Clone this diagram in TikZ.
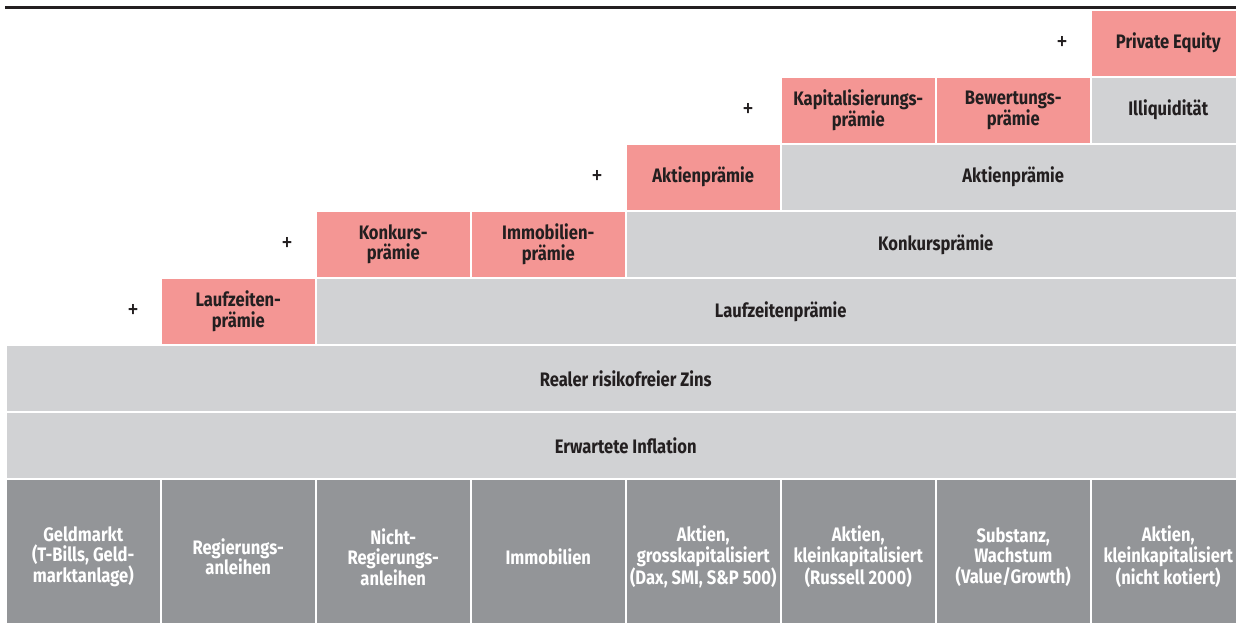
\documentclass[tikz,border=0pt]{standalone}
\usepackage{fontspec}
\setmainfont{Fira Sans}[FakeStretch=0.85]
\usepackage{tikz}
\usetikzlibrary{positioning}
\definecolor{premPink}{HTML}{F49694}
\definecolor{premGrey}{HTML}{D1D2D4}
\definecolor{assetGrey}{HTML}{939598}
\definecolor{inkDark}{HTML}{231F20}

\begin{document}
\begin{tikzpicture}[x=1pt, y=-1pt, font=\bfseries\fontsize{19.5}{20.5}\selectfont,
  cell/.style={draw=white, line width=1.5pt, minimum height=67pt, inner sep=0pt,
               anchor=north west, align=center, text=inkDark},
  prem/.style={cell, fill=premPink, minimum width=155pt},
  base/.style={cell, fill=premGrey},
  asset/.style={cell, fill=assetGrey, text=white, minimum width=155pt, minimum height=156pt},
  plus/.style={font=\mdseries\fontsize{27}{28}\selectfont, text=inkDark},
]
  \useasboundingbox (0,0) rectangle (1236,622);
  \clip (0,0) rectangle (1236,622);
  % premium steps
  \node[prem] (pe) at (1090,9) {Private Equity};
  \node[prem] (kap) at (780,76) {Kapitalisierungs-\\prämie};
  \node[prem] (bew) at (935,76) {Bewertungs-\\prämie};
  \node[base, minimum width=155pt] (illiq) at (1090,76) {Illiquidität};
  \node[prem] (akt) at (625,143) {Aktienprämie};
  \node[base, minimum width=465pt] (aktb) at (780,143) {Aktienprämie};
  \node[prem] (konk) at (315,210) {Konkurs-\\prämie};
  \node[prem] (immo) at (470,210) {Immobilien-\\prämie};
  \node[base, minimum width=620pt] (konkb) at (625,210) {Konkursprämie};
  \node[prem] (lauf) at (160,277) {Laufzeiten-\\prämie};
  \node[base, minimum width=930pt] (laufb) at (315,277) {Laufzeitenprämie};
  \node[base, minimum width=1240pt] (zins) at (5,344) {Realer risikofreier Zins};
  \node[base, minimum width=1240pt] (infl) at (5,411) {Erwartete Inflation};
  % asset classes
  \node[asset] (a1) at (5,478) {Geldmarkt\\(T-Bills, Geld-\\marktanlage)};
  \node[asset] (a2) at (160,478) {Regierungs-\\anleihen};
  \node[asset] (a3) at (315,478) {Nicht-\\Regierungs-\\anleihen};
  \node[asset] (a4) at (470,478) {Immobilien};
  \node[asset] (a5) at (625,478) {Aktien,\\grosskapitalisiert\\(Dax, SMI, S\&P 500)};
  \node[asset] (a6) at (780,478) {Aktien,\\kleinkapitalisiert\\(Russell 2000)};
  \node[asset] (a7) at (935,478) {Substanz,\\Wachstum\\(Value/Growth)};
  \node[asset] (a8) at (1090,478) {Aktien,\\kleinkapitalisiert\\(nicht kotiert)};
  % plus signs
  \node[plus] at ([xshift=-28pt]pe.west) {+};
  \node[plus] at ([xshift=-32pt]kap.west) {+};
  \node[plus] at ([xshift=-28pt]akt.west) {+};
  \node[plus] at ([xshift=-28pt]konk.west) {+};
  \node[plus] at ([xshift=-27pt]lauf.west) {+};
  \draw[inkDark, line width=3pt] (5,7.5) -- (1236,7.5);
\end{tikzpicture}
\end{document}
